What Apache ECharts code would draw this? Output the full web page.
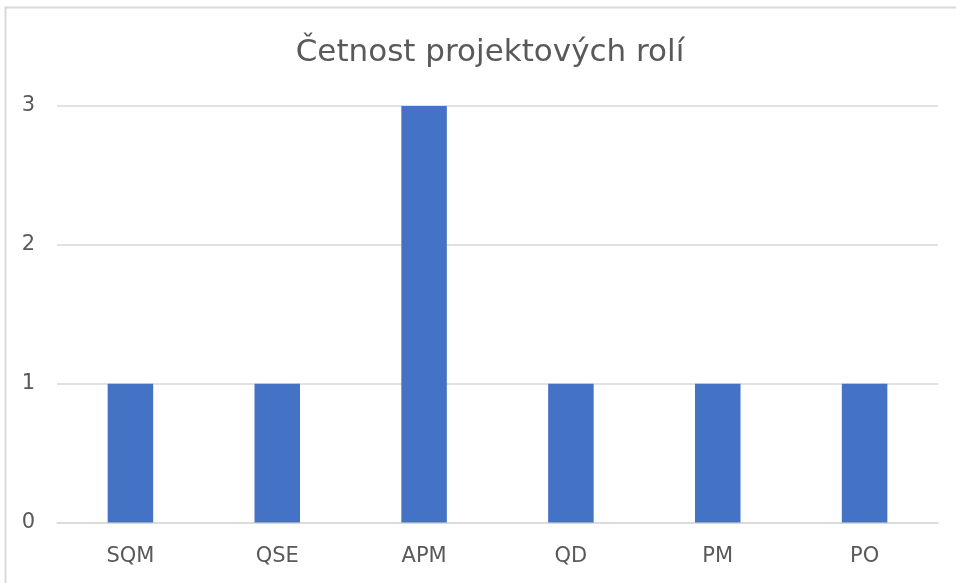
<!DOCTYPE html>
<html>
<head>
<meta charset="utf-8">
<style>
  html, body { margin: 0; padding: 0; background: #ffffff; }
  #chart { width: 956px; height: 583px; }
</style>
<script src="https://cdn.jsdelivr.net/npm/echarts@6/dist/echarts.min.js"></script>
</head>
<body>
<div id="chart"></div>
<script>
// Project roles and how many times each one occurs
const roles = ['SQM', 'QSE', 'APM', 'QD', 'PM', 'PO'];
const counts = [1, 1, 3, 1, 1, 1];
const yTicks = [0, 1, 2, 3];

const chart = echarts.init(document.getElementById('chart'), null, { renderer: 'canvas' });
const textColor = '#595959';
const fontFamily = '"DejaVu Sans", "Liberation Sans", sans-serif';

chart.setOption({
  animation: false,
  backgroundColor: '#ffffff',
  title: {
    text: 'Četnost projektových rolí',
    left: 485,
    textAlign: 'center',
    top: 32,
    textStyle: { color: textColor, fontSize: 31, fontWeight: 'normal', fontFamily: fontFamily }
  },
  // chart-area frame
  graphic: [{
    type: 'rect',
    shape: { x: 5.5, y: 7.5, width: 2000, height: 2000 },
    style: { fill: 'none', stroke: '#d9d9d9', lineWidth: 2 },
    silent: true
  }],
  grid: { left: 57, right: 18, top: 106, bottom: 60.5 },
  xAxis: {
    type: 'category',
    data: roles,
    axisLine: { show: true, lineStyle: { color: '#d9d9d9', width: 1.5 } },
    axisTick: { show: false },
    axisLabel: { color: textColor, fontSize: 21, fontFamily: fontFamily, margin: 24 }
  },
  yAxis: {
    type: 'value',
    min: yTicks[0],
    max: yTicks[yTicks.length - 1],
    interval: 1,
    axisLine: { show: false },
    axisTick: { show: false },
    axisLabel: { color: textColor, fontSize: 21, fontFamily: fontFamily, margin: 22 },
    splitLine: { lineStyle: { color: '#d9d9d9', width: 1.5 } }
  },
  series: [{
    type: 'bar',
    data: counts,
    barWidth: '31%',
    itemStyle: { color: '#4472C4' }
  }]
});
</script>
</body>
</html>
